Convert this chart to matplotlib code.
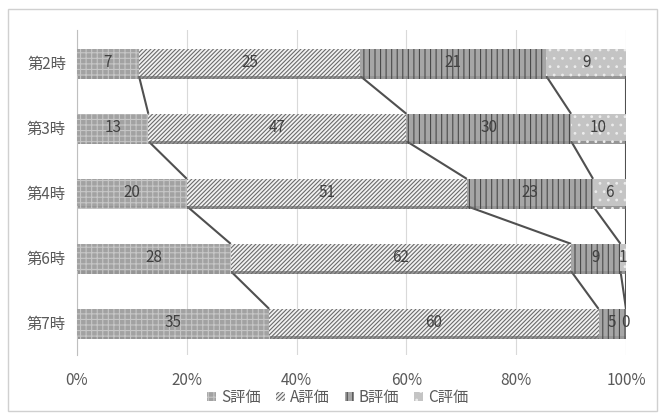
import matplotlib

matplotlib.use("Agg")
import matplotlib.pyplot as plt
import matplotlib.patheffects as pe
from matplotlib.patches import Patch, Rectangle
import numpy as np

plt.rcParams["font.family"] = ["Noto Sans CJK JP", "DejaVu Sans"]
plt.rcParams["hatch.linewidth"] = 0.8

# 授業回ごとの評価人数
lessons = ["第2時", "第3時", "第4時", "第6時", "第7時"]
s_counts = [7, 13, 20, 28, 35]
a_counts = [25, 47, 51, 62, 60]
b_counts = [21, 30, 23, 9, 5]
c_counts = [9, 10, 6, 1, 0]
series_names = ["S評価", "A評価", "B評価", "C評価"]

styles = [
    dict(facecolor="#a2a2a2", edgecolor="#c6c6c6", hatch="+++"),
    dict(facecolor="#f2f2f2", edgecolor="#6a6a6a", hatch="////////"),
    dict(facecolor="#a6a6a6", edgecolor="#4a4a4a", hatch="|||"),
    dict(facecolor="#c4c4c4", edgecolor="#ececec", hatch=".."),
]

counts = np.array([s_counts, a_counts, b_counts, c_counts], dtype=float)
pct = counts / counts.sum(axis=0) * 100
cum = np.vstack([np.zeros(len(lessons)), np.cumsum(pct, axis=0)])

fig = plt.figure(figsize=(6.62, 4.16), dpi=100)
ax = fig.add_axes([0.1163, 0.1466, 0.8293, 0.7814])

y = np.arange(len(lessons))
h = 0.42
shadow = [pe.SimplePatchShadow(offset=(0.5, -2.0), shadow_rgbFace="#6a6a6a", alpha=0.7), pe.Normal()]

for k in range(4):
    bars = ax.barh(y, pct[k], left=cum[k], height=h, linewidth=0, zorder=3, **styles[k])
    for b in bars:
        b.set_path_effects(shadow)
    for i in range(len(lessons)):
        ax.text(cum[k, i] + pct[k, i] / 2, y[i], f"{int(counts[k, i])}",
                ha="center", va="center", fontsize=11, color="#404040", zorder=5)

# 系列線（各評価の累積境界を結ぶ）
for k in range(1, 5):
    for i in range(len(lessons) - 1):
        ax.plot([cum[k, i], cum[k, i + 1]], [y[i] + h / 2, y[i + 1] - h / 2],
                color="#505050", linewidth=1.5, zorder=2, solid_capstyle="butt")

ax.set_xlim(0, 100)
ax.set_ylim(len(lessons) - 0.5, -0.5)
ax.set_xticks(np.arange(0, 101, 20))
ax.set_xticklabels([f"{t}%" for t in range(0, 101, 20)])
ax.set_yticks(y)
ax.set_yticklabels(lessons)
ax.tick_params(length=0, labelsize=11, colors="#595959", pad=8)
ax.tick_params(axis="x", pad=12)
ax.grid(axis="x", color="#d9d9d9", linewidth=0.8, zorder=0)
for sp in ["top", "right", "bottom"]:
    ax.spines[sp].set_visible(False)
ax.spines["left"].set_color("#bfbfbf")

handles = [Patch(linewidth=0, **st) for st in styles]
fig.legend(handles, series_names, loc="center", bbox_to_anchor=(0.51, 0.045), ncol=4,
           frameon=False, fontsize=11, handlelength=0.6, handleheight=0.6,
           handletextpad=0.3, columnspacing=1.0, labelcolor="#595959")

fig.patches.append(Rectangle((0.012, 0.012), 0.98, 0.966, transform=fig.transFigure,
                             fill=False, edgecolor="#d0d0d0", linewidth=1))

fig.savefig("out.png", dpi=100)
